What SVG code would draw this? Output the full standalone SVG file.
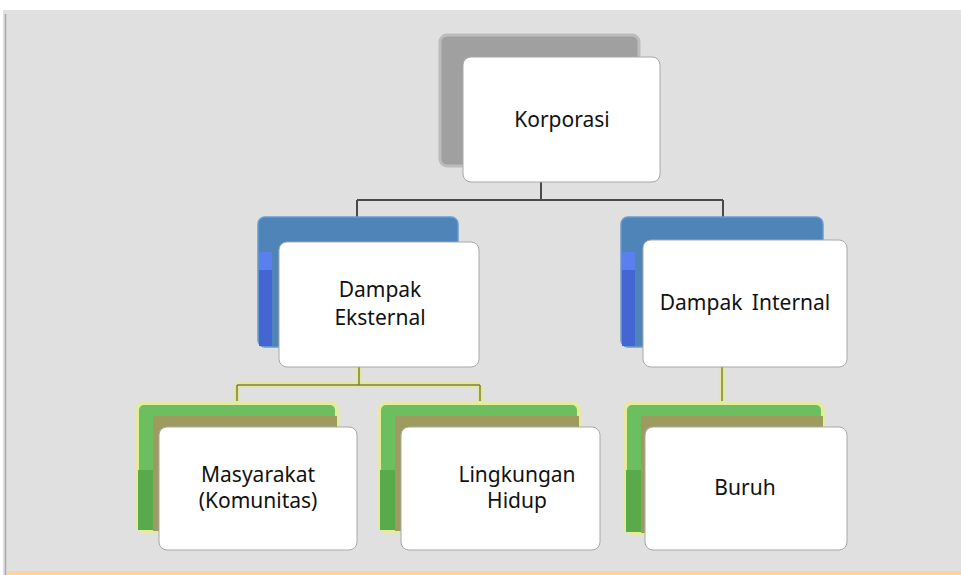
<svg xmlns="http://www.w3.org/2000/svg" width="961" height="575" viewBox="0 0 961 575">
<style>
.box{fill:#ffffff;stroke:#a8a8a8;stroke-width:1}
.txt{font-family:"Noto Sans","Open Sans",sans-serif;font-size:21px;fill:#111;text-anchor:middle}
.gshadow{fill:#a0a0a0;stroke:#bcbcbc;stroke-width:3}
.bshadow{fill:#4f84b9;stroke:#6a9ad0;stroke-width:1.5}
.grshadow{fill:#6cbf5f;stroke:#e4eaa0;stroke-width:4}
.olive{fill:#9d9c5e}
.c1{fill:none;stroke:#4a4a4a;stroke-width:2}
.c2halo{fill:none;stroke:#e2e8a2;stroke-width:6}
.c2{fill:none;stroke:#7f7f3c;stroke-width:1.5}
</style>
<rect x="0" y="0" width="961" height="575" fill="#ffffff"/>
<rect x="3" y="10" width="958" height="565" fill="#e0e0e0"/>
<line x1="5.5" y1="14" x2="5.5" y2="575" stroke="#a8a8a8" stroke-width="1.5"/>
<rect x="7" y="571" width="954" height="4" fill="#ffd39b"/>

<g id="connectors">
<path class="c1" d="M541 182V200M357 200H723M357 200V218M723 200V218"/>
<path class="c2halo" d="M359 367V385M237 385H480M237 385V404M480 385V404M722 367V404"/>
<path class="c2" d="M359 367V385M237 385H480M237 385V404M480 385V404M722 367V404"/>
</g>

<g id="korporasi">
<rect class="gshadow" x="440" y="35" width="199" height="131" rx="7"/>
<rect class="box" x="463" y="57" width="197" height="125" rx="8"/>
<text class="txt" x="562" y="127">Korporasi</text>
</g>

<g id="dampak-eksternal">
<rect class="bshadow" x="258" y="217" width="200" height="130" rx="7"/>
<rect x="259" y="252" width="13" height="94" fill="#4466d2"/>
<rect x="259" y="252" width="13" height="18" fill="#5a80f0"/>
<rect class="box" x="279" y="242" width="200" height="125" rx="8"/>
<text class="txt" x="380" y="297">Dampak</text>
<text class="txt" x="380" y="325">Eksternal</text>
</g>

<g id="dampak-internal">
<rect class="bshadow" x="621" y="217" width="202" height="130" rx="7"/>
<rect x="622" y="252" width="13" height="94" fill="#4466d2"/>
<rect x="622" y="252" width="13" height="18" fill="#5a80f0"/>
<rect class="box" x="643" y="240" width="204" height="127" rx="8"/>
<text class="txt" x="745" y="310" word-spacing="4">Dampak Internal</text>
</g>

<g id="masyarakat">
<rect class="grshadow" x="137" y="403" width="200" height="128" rx="7"/>
<rect x="138" y="470" width="15" height="60" fill="#58aa4a"/>
<rect class="olive" x="153" y="416" width="184" height="115"/>
<rect class="box" x="159" y="427" width="198" height="123" rx="8"/>
<text class="txt" x="258" y="482">Masyarakat</text>
<text class="txt" x="258" y="508">(Komunitas)</text>
</g>

<g id="lingkungan">
<rect class="grshadow" x="379" y="403" width="200" height="128" rx="7"/>
<rect x="380" y="470" width="15" height="60" fill="#58aa4a"/>
<rect class="olive" x="395" y="416" width="184" height="115"/>
<rect class="box" x="401" y="427" width="199" height="123" rx="8"/>
<text class="txt" x="517" y="482">Lingkungan</text>
<text class="txt" x="517" y="508">Hidup</text>
</g>

<g id="buruh">
<rect class="grshadow" x="625" y="403" width="198" height="130" rx="7"/>
<rect x="626" y="470" width="17" height="62" fill="#58aa4a"/>
<rect class="olive" x="641" y="416" width="182" height="117"/>
<rect class="box" x="645" y="427" width="202" height="123" rx="8"/>
<text class="txt" x="745" y="495">Buruh</text>
</g>
</svg>
